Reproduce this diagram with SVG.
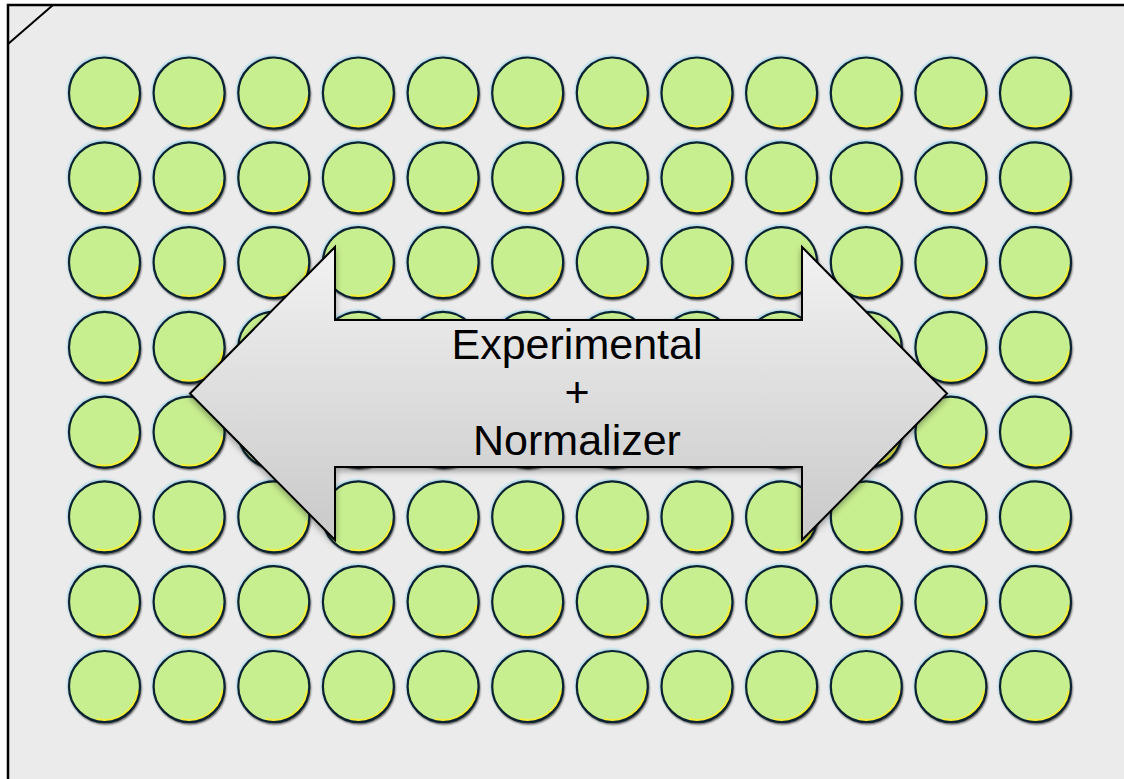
<svg xmlns="http://www.w3.org/2000/svg" xmlns:xlink="http://www.w3.org/1999/xlink" width="1124" height="779" viewBox="0 0 1124 779">
<defs>
<style>
.txt{font-family:"Liberation Sans","Open Sans",Arial,sans-serif;font-size:43px;fill:#000;text-anchor:middle}
</style>
<linearGradient id="arrowGrad" x1="0" y1="0" x2="0" y2="1">
<stop offset="0" stop-color="#f2f2f2"/>
<stop offset="1" stop-color="#c9c9c9"/>
</linearGradient>
<filter id="shadow" x="-10%" y="-10%" width="120%" height="130%">
<feDropShadow dx="0" dy="3" stdDeviation="3" flood-color="#000" flood-opacity="0.35"/>
</filter>
<filter id="blur1" x="-20%" y="-20%" width="140%" height="140%">
<feGaussianBlur stdDeviation="1"/>
</filter>
<g id="well">
<circle cx="-1" cy="-1.5" r="36.5" fill="#a9d9ea" filter="url(#blur1)"/>
<circle cx="1" cy="2" r="36" fill="#000" opacity="0.7" filter="url(#blur1)"/>
<circle r="35.5" fill="#c8ef8f"/>
<path d="M 33.5 4 A 33.5 33.5 0 0 1 -8 32.6" fill="none" stroke="#f4f03a" stroke-width="2.5"/>
<circle r="35.5" fill="none" stroke="#0c2230" stroke-width="2.2"/>
</g>
</defs>
<g id="plate">
<rect x="8" y="5" width="1130" height="790" fill="#ebebeb" stroke="#000" stroke-width="2.5"/>
<line x1="8" y1="44" x2="53" y2="5" stroke="#000" stroke-width="2"/>
</g>
<g id="wells">
<g id="row1">
<use id="A1" xlink:href="#well" x="104.5" y="93"/>
<use id="A2" xlink:href="#well" x="189.1" y="93"/>
<use id="A3" xlink:href="#well" x="273.8" y="93"/>
<use id="A4" xlink:href="#well" x="358.4" y="93"/>
<use id="A5" xlink:href="#well" x="443.1" y="93"/>
<use id="A6" xlink:href="#well" x="527.7" y="93"/>
<use id="A7" xlink:href="#well" x="612.3" y="93"/>
<use id="A8" xlink:href="#well" x="697.0" y="93"/>
<use id="A9" xlink:href="#well" x="781.6" y="93"/>
<use id="A10" xlink:href="#well" x="866.3" y="93"/>
<use id="A11" xlink:href="#well" x="950.9" y="93"/>
<use id="A12" xlink:href="#well" x="1035.5" y="93"/>
</g>
<g id="row2">
<use id="B1" xlink:href="#well" x="104.5" y="177.8"/>
<use id="B2" xlink:href="#well" x="189.1" y="177.8"/>
<use id="B3" xlink:href="#well" x="273.8" y="177.8"/>
<use id="B4" xlink:href="#well" x="358.4" y="177.8"/>
<use id="B5" xlink:href="#well" x="443.1" y="177.8"/>
<use id="B6" xlink:href="#well" x="527.7" y="177.8"/>
<use id="B7" xlink:href="#well" x="612.3" y="177.8"/>
<use id="B8" xlink:href="#well" x="697.0" y="177.8"/>
<use id="B9" xlink:href="#well" x="781.6" y="177.8"/>
<use id="B10" xlink:href="#well" x="866.3" y="177.8"/>
<use id="B11" xlink:href="#well" x="950.9" y="177.8"/>
<use id="B12" xlink:href="#well" x="1035.5" y="177.8"/>
</g>
<g id="row3">
<use id="C1" xlink:href="#well" x="104.5" y="262.6"/>
<use id="C2" xlink:href="#well" x="189.1" y="262.6"/>
<use id="C3" xlink:href="#well" x="273.8" y="262.6"/>
<use id="C4" xlink:href="#well" x="358.4" y="262.6"/>
<use id="C5" xlink:href="#well" x="443.1" y="262.6"/>
<use id="C6" xlink:href="#well" x="527.7" y="262.6"/>
<use id="C7" xlink:href="#well" x="612.3" y="262.6"/>
<use id="C8" xlink:href="#well" x="697.0" y="262.6"/>
<use id="C9" xlink:href="#well" x="781.6" y="262.6"/>
<use id="C10" xlink:href="#well" x="866.3" y="262.6"/>
<use id="C11" xlink:href="#well" x="950.9" y="262.6"/>
<use id="C12" xlink:href="#well" x="1035.5" y="262.6"/>
</g>
<g id="row4">
<use id="D1" xlink:href="#well" x="104.5" y="347.4"/>
<use id="D2" xlink:href="#well" x="189.1" y="347.4"/>
<use id="D3" xlink:href="#well" x="273.8" y="347.4"/>
<use id="D4" xlink:href="#well" x="358.4" y="347.4"/>
<use id="D5" xlink:href="#well" x="443.1" y="347.4"/>
<use id="D6" xlink:href="#well" x="527.7" y="347.4"/>
<use id="D7" xlink:href="#well" x="612.3" y="347.4"/>
<use id="D8" xlink:href="#well" x="697.0" y="347.4"/>
<use id="D9" xlink:href="#well" x="781.6" y="347.4"/>
<use id="D10" xlink:href="#well" x="866.3" y="347.4"/>
<use id="D11" xlink:href="#well" x="950.9" y="347.4"/>
<use id="D12" xlink:href="#well" x="1035.5" y="347.4"/>
</g>
<g id="row5">
<use id="E1" xlink:href="#well" x="104.5" y="432.1"/>
<use id="E2" xlink:href="#well" x="189.1" y="432.1"/>
<use id="E3" xlink:href="#well" x="273.8" y="432.1"/>
<use id="E4" xlink:href="#well" x="358.4" y="432.1"/>
<use id="E5" xlink:href="#well" x="443.1" y="432.1"/>
<use id="E6" xlink:href="#well" x="527.7" y="432.1"/>
<use id="E7" xlink:href="#well" x="612.3" y="432.1"/>
<use id="E8" xlink:href="#well" x="697.0" y="432.1"/>
<use id="E9" xlink:href="#well" x="781.6" y="432.1"/>
<use id="E10" xlink:href="#well" x="866.3" y="432.1"/>
<use id="E11" xlink:href="#well" x="950.9" y="432.1"/>
<use id="E12" xlink:href="#well" x="1035.5" y="432.1"/>
</g>
<g id="row6">
<use id="F1" xlink:href="#well" x="104.5" y="516.9"/>
<use id="F2" xlink:href="#well" x="189.1" y="516.9"/>
<use id="F3" xlink:href="#well" x="273.8" y="516.9"/>
<use id="F4" xlink:href="#well" x="358.4" y="516.9"/>
<use id="F5" xlink:href="#well" x="443.1" y="516.9"/>
<use id="F6" xlink:href="#well" x="527.7" y="516.9"/>
<use id="F7" xlink:href="#well" x="612.3" y="516.9"/>
<use id="F8" xlink:href="#well" x="697.0" y="516.9"/>
<use id="F9" xlink:href="#well" x="781.6" y="516.9"/>
<use id="F10" xlink:href="#well" x="866.3" y="516.9"/>
<use id="F11" xlink:href="#well" x="950.9" y="516.9"/>
<use id="F12" xlink:href="#well" x="1035.5" y="516.9"/>
</g>
<g id="row7">
<use id="G1" xlink:href="#well" x="104.5" y="601.7"/>
<use id="G2" xlink:href="#well" x="189.1" y="601.7"/>
<use id="G3" xlink:href="#well" x="273.8" y="601.7"/>
<use id="G4" xlink:href="#well" x="358.4" y="601.7"/>
<use id="G5" xlink:href="#well" x="443.1" y="601.7"/>
<use id="G6" xlink:href="#well" x="527.7" y="601.7"/>
<use id="G7" xlink:href="#well" x="612.3" y="601.7"/>
<use id="G8" xlink:href="#well" x="697.0" y="601.7"/>
<use id="G9" xlink:href="#well" x="781.6" y="601.7"/>
<use id="G10" xlink:href="#well" x="866.3" y="601.7"/>
<use id="G11" xlink:href="#well" x="950.9" y="601.7"/>
<use id="G12" xlink:href="#well" x="1035.5" y="601.7"/>
</g>
<g id="row8">
<use id="H1" xlink:href="#well" x="104.5" y="686.5"/>
<use id="H2" xlink:href="#well" x="189.1" y="686.5"/>
<use id="H3" xlink:href="#well" x="273.8" y="686.5"/>
<use id="H4" xlink:href="#well" x="358.4" y="686.5"/>
<use id="H5" xlink:href="#well" x="443.1" y="686.5"/>
<use id="H6" xlink:href="#well" x="527.7" y="686.5"/>
<use id="H7" xlink:href="#well" x="612.3" y="686.5"/>
<use id="H8" xlink:href="#well" x="697.0" y="686.5"/>
<use id="H9" xlink:href="#well" x="781.6" y="686.5"/>
<use id="H10" xlink:href="#well" x="866.3" y="686.5"/>
<use id="H11" xlink:href="#well" x="950.9" y="686.5"/>
<use id="H12" xlink:href="#well" x="1035.5" y="686.5"/>
</g>
</g>
<g id="arrow">
<polygon points="190,393.5 335,247 335,320 802,320 802,247 947,393.5 802,540 802,467 335,467 335,540" fill="url(#arrowGrad)" stroke="#000" stroke-width="2" stroke-linejoin="miter" filter="url(#shadow)"/>
<text class="txt" x="577" y="359">Experimental</text>
<text class="txt" x="577" y="407">+</text>
<text class="txt" x="577" y="455">Normalizer</text>
</g>
</svg>
